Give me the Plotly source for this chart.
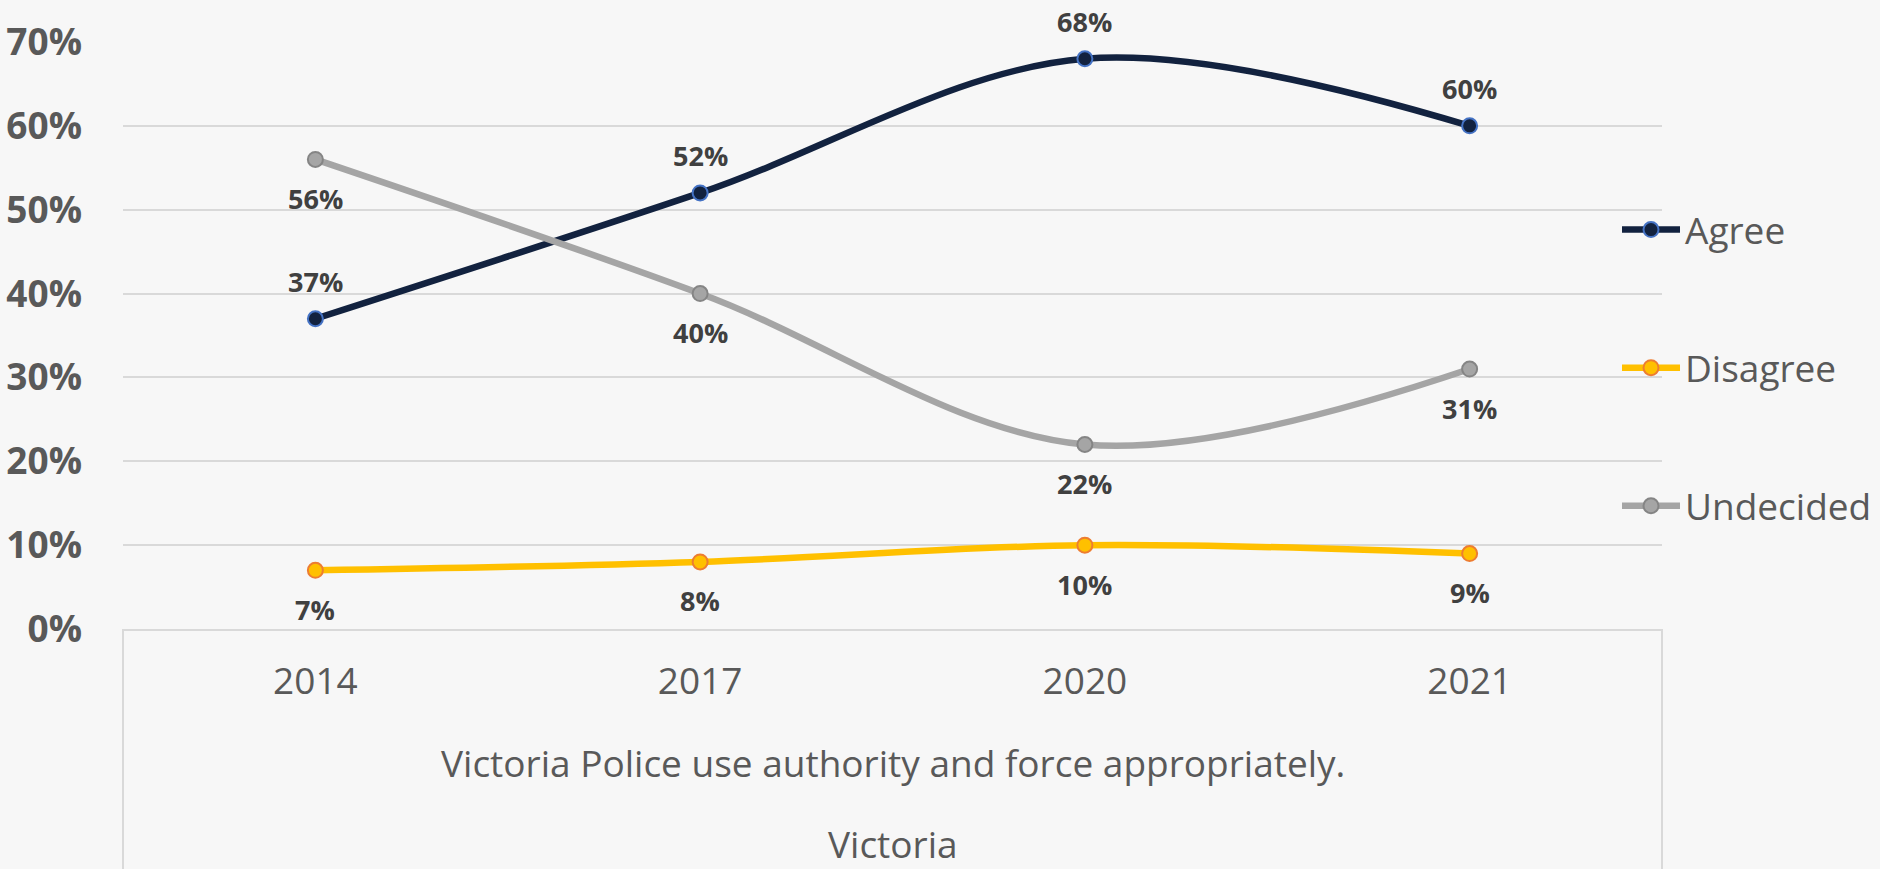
import plotly.graph_objects as go

years = ["2014", "2017", "2020", "2021"]
agree = [0.37, 0.52, 0.68, 0.60]
disagree = [0.07, 0.08, 0.10, 0.09]
undecided = [0.56, 0.40, 0.22, 0.31]

series_names = ["Agree", "Disagree", "Undecided"]
y_ticks = [0, 0.1, 0.2, 0.3, 0.4, 0.5, 0.6, 0.7]
axis_title = "Victoria Police use authority and force appropriately."
group_label = "Victoria"

FONT = "Open Sans, Segoe UI, sans-serif"
W, H = 1880, 869
ML, MR, MT, MB = 123, 218, 42, 240
PH = H - MT - MB
PW = W - ML - MR

styles = {
    "Agree": dict(line="#12223F", fill="#12223F", edge="#4472C4", pos=1),
    "Disagree": dict(line="#FFC000", fill="#FFC000", edge="#ED7D31", pos=-1),
    "Undecided": dict(line="#A5A5A5", fill="#A5A5A5", edge="#858585", pos=-1),
}
values = {"Agree": agree, "Disagree": disagree, "Undecided": undecided}
xpos = list(range(len(years)))

fig = go.Figure()
annotations = []
for name in series_names:
    st = styles[name]
    vals = values[name]
    fig.add_trace(go.Scatter(
        x=xpos, y=vals, name=name, mode="lines+markers",
        line=dict(color=st["line"], width=6.5, shape="spline", smoothing=1.0),
        marker=dict(size=15, color=st["fill"], line=dict(color=st["edge"], width=2)),
        legendgroup=name,
        cliponaxis=False,
        customdata=years,
    ))
    for xv, yv in zip(xpos, vals):
        annotations.append(dict(
            x=xv, y=yv, xref="x", yref="y", text=f"{round(yv*100)}%",
            showarrow=False, yshift=37 if st["pos"] > 0 else -39,
            font=dict(family=FONT, size=27, color="#404040", weight="bold"),
            xanchor="center", yanchor="middle",
        ))

annotations.append(dict(
    x=0.5, y=(MT + PH - 762) / PH, xref="paper", yref="paper", text=axis_title,
    showarrow=False, font=dict(family=FONT, size=37, color="#595959"),
    xanchor="center", yanchor="middle",
))
annotations.append(dict(
    x=0.5, y=(MT + PH - 843) / PH, xref="paper", yref="paper", text=group_label,
    showarrow=False, font=dict(family=FONT, size=37, color="#595959"),
    xanchor="center", yanchor="middle",
))

shapes = [
    dict(type="line", xref="paper", yref="paper", x0=0, x1=0, y0=0, y1=-0.5,
         line=dict(color="#D9D9D9", width=2)),
    dict(type="line", xref="paper", yref="paper", x0=1, x1=1, y0=0, y1=-0.5,
         line=dict(color="#D9D9D9", width=2)),
]

fig.update_layout(
    width=W, height=H,
    margin=dict(l=ML, r=MR, t=MT, b=MB, autoexpand=False),
    paper_bgcolor="#F7F7F7", plot_bgcolor="#F7F7F7",
    font=dict(family=FONT, color="#595959"),
    showlegend=True,
    legend=dict(
        x=(1617 - ML) / PW, xanchor="left",
        y=(MT + PH - 199) / PH, yanchor="top",
        font=dict(family=FONT, size=37, color="#595959"),
        bgcolor="rgba(0,0,0,0)", traceorder="grouped", tracegroupgap=87,
        itemwidth=58,
    ),
    xaxis=dict(
        type="linear", range=[-0.5, len(years) - 0.5],
        tickvals=xpos, ticktext=years, automargin=False,
        showgrid=False, showline=True, linecolor="#D9D9D9", linewidth=2,
        ticks="", tickfont=dict(family=FONT, size=37, color="#595959"),
        ticklabelstandoff=19, zeroline=False,
    ),
    yaxis=dict(
        range=[0, 0.7], tickvals=y_ticks, tickformat=".0%", automargin=False,
        showgrid=True, gridcolor="#D9D9D9", gridwidth=1.5,
        zeroline=False, showline=False, ticks="",
        tickfont=dict(family=FONT, size=37, color="#595959", weight="bold"),
        ticklabelstandoff=40,
    ),
    annotations=annotations,
    shapes=shapes,
)

fig.write_html(
    "out.html",
    config={"displayModeBar": False},
    post_script="document.body.style.margin='0';document.body.style.overflow='hidden';",
)
